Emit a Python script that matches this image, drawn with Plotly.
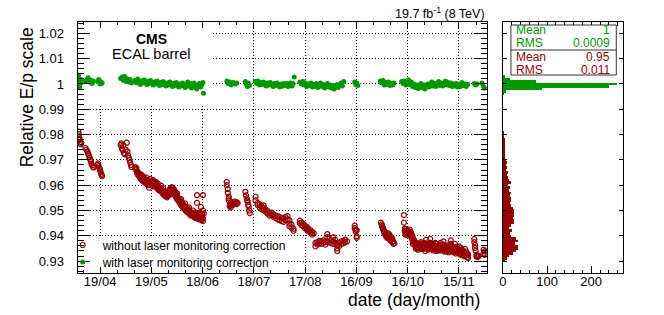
import numpy as np
import pandas as pd
import plotly.graph_objects as go

# ---------------- data (day of year 2012, relative E/p scale) ----------------
YEAR_START = pd.Timestamp("2012-01-01")

red_day = [
    97.3, 97.5, 97.6, 97.8, 98.0, 98.3, 98.6, 99.0,
    101.4, 102.0, 102.6, 103.0, 103.4, 103.8, 104.2, 104.6, 104.9, 105.3, 105.8, 106.2,
    108.5, 108.8, 109.2, 109.6, 110.0, 110.3, 110.6, 110.9, 111.2,
    122.0, 122.4, 122.8, 123.2, 123.6, 124.0, 124.4, 125.0, 125.6, 126.0, 126.4, 126.8, 127.2, 127.6, 128.0, 128.4,
    130.6, 130.6, 131.2, 131.2, 131.7, 131.7, 132.3, 132.3, 132.9, 132.9, 133.5, 133.5,
    134.1, 134.1, 134.1, 134.7, 134.7, 135.2, 135.2, 135.2, 135.8, 135.8, 136.4, 136.4,
    137.0, 137.0, 137.0, 137.5, 137.5, 138.1, 138.1, 138.7, 138.7, 138.7, 139.3, 139.3,
    139.9, 139.9, 140.4, 140.4, 141.0, 141.0, 141.0, 141.6, 141.6, 142.2, 142.2,
    142.8, 142.8, 142.8, 143.4, 143.4, 143.9, 143.9, 143.9, 144.5, 144.5, 145.1, 145.1,
    145.7, 145.7, 146.3, 146.3, 146.9, 146.9, 146.9, 147.4, 147.4, 148.0, 148.0,
    148.6, 148.6, 148.6, 149.2, 149.2, 149.8, 149.8, 150.4, 150.4, 150.9, 150.9,
    151.5, 151.5, 151.5, 152.1, 152.1, 152.7, 152.7, 153.3, 153.3, 153.9, 153.9, 154.4, 154.4,
    155.0, 155.0, 155.0, 155.6, 155.6, 156.2, 156.2, 156.8, 156.8, 157.4, 157.4, 157.4,
    157.9, 157.9, 158.5, 158.5, 159.1, 159.1, 159.7, 159.7, 159.7, 160.3, 160.3, 160.8, 160.8,
    161.4, 161.4, 162.0, 162.0, 162.0, 162.6, 162.6, 163.2, 163.2, 163.7, 163.7,
    164.3, 164.3, 164.3, 164.9, 164.9, 165.5, 165.5, 165.5, 166.1, 166.1,
    166.7, 166.7, 166.7, 166.7, 167.2, 167.2, 167.2, 167.8, 167.8, 168.4, 168.4, 168.4,
    169.0, 169.0, 169.0, 169.6, 169.6, 169.6, 170.2, 170.2, 170.2, 170.2, 170.7,
    184.1, 184.1, 184.7, 184.7, 185.3, 185.3, 185.3, 185.9, 185.9, 186.4, 186.4, 186.4,
    187.6, 187.6, 188.8, 188.8, 189.9, 189.9, 190.5,
    195.0, 195.4, 195.8, 196.1, 196.4, 196.7, 197.0, 197.3, 197.6,
    201.0, 201.0, 202.2, 202.2, 203.4, 203.4, 204.5, 204.5, 205.7, 205.7, 205.7, 206.9, 206.9,
    208.0, 208.0, 209.2, 209.2, 210.4, 210.4, 211.5, 211.5, 212.7, 212.7, 213.9, 213.9,
    215.0, 215.0, 216.2, 216.2, 217.4, 217.4, 218.5, 218.5, 219.7, 219.7,
    220.8, 220.8, 220.8, 222.0, 222.0, 223.2, 223.2,
    226.9, 226.9, 227.8, 227.8, 228.9, 228.9, 229.9, 229.9, 231.0, 231.0, 232.0, 232.0,
    233.1, 233.1, 234.1, 234.1, 235.0,
    236.0, 236.0, 237.1, 237.1, 238.3, 238.3, 239.5, 239.5, 240.6, 240.6, 241.8, 241.8,
    243.0, 243.0, 243.0, 244.1, 244.1, 245.3, 245.3, 246.5, 246.5, 246.5, 247.6, 247.6,
    248.8, 248.8, 248.8, 250.0, 250.0, 251.1, 251.1, 252.3, 252.3, 253.4, 253.4, 254.6,
    259.0, 259.0, 259.6, 259.6, 260.2, 260.2, 260.2,
    274.3, 274.9, 274.9, 275.6, 275.6, 276.2, 276.2, 276.8, 276.8, 277.4, 277.4, 278.0, 278.0,
    278.6, 278.6, 279.2, 279.2, 279.2, 279.8, 279.8, 280.4, 280.4, 281.0, 281.0, 281.6, 281.6, 282.2,
    287.8, 287.8, 288.3, 288.3, 288.8, 288.8, 288.8, 289.4, 289.4, 290.0, 290.0, 290.0,
    290.6, 290.6, 291.2, 291.2, 291.8, 291.8, 292.4, 292.4, 293.0, 293.0, 293.0,
    293.6, 293.6, 294.2, 294.2, 294.8, 294.8, 295.4, 295.4, 296.0, 296.0, 296.0,
    296.6, 296.6, 297.2, 297.2, 297.8, 297.8, 297.8, 298.4, 298.4, 299.0, 299.0, 299.6, 299.6,
    300.2, 300.2, 300.2, 300.8, 300.8, 301.4, 301.4, 302.0, 302.0, 302.0, 302.6, 302.6,
    303.2, 303.2, 303.2, 303.8, 303.8, 304.4, 304.4, 305.0, 305.0, 305.0, 305.6, 305.6,
    306.2, 306.2, 306.8, 306.8, 306.8, 307.4, 307.4, 308.0, 308.0, 308.6, 308.6,
    309.2, 309.2, 309.2, 309.8, 309.8, 310.4, 310.4, 311.0, 311.0, 311.6, 311.6, 311.6,
    312.2, 312.2, 312.8, 312.8, 313.4, 313.4, 314.0, 314.0, 314.0, 314.6, 314.6,
    315.2, 315.2, 315.2, 315.8, 315.8, 316.4, 316.4, 317.0, 317.0, 317.6, 317.6,
    318.2, 318.2, 318.2, 318.8, 318.8, 319.4, 319.4, 320.0, 320.0, 320.6, 320.6,
    321.2, 321.2, 321.2, 321.8, 321.8, 322.4, 322.4, 323.0, 323.0, 323.6, 323.6,
    324.2, 324.2, 324.8, 324.8, 325.4, 325.4,
    329.0, 329.0, 329.4, 329.4, 329.8, 330.3, 330.3, 330.9, 330.9, 331.5,
    334.4, 334.4, 335.0, 335.0, 335.6,
]
red_val = [
    0.9812, 0.9802, 0.9790, 0.9779, 0.9784, 0.9771, 0.9762, 0.9768,
    0.9747, 0.9740, 0.9733, 0.9725, 0.9718, 0.9710, 0.9702, 0.9695, 0.9685, 0.9679, 0.9673, 0.9670,
    0.9680, 0.9686, 0.9675, 0.9668, 0.9660, 0.9652, 0.9645, 0.9640, 0.9636,
    0.9758, 0.9765, 0.9745, 0.9738, 0.9758, 0.9727, 0.9722, 0.9740, 0.9768, 0.9733, 0.9718, 0.9708, 0.9700, 0.9690, 0.9680, 0.9672,
    0.9672, 0.9665, 0.9660, 0.9668, 0.9655, 0.9645, 0.9650, 0.9640, 0.9645, 0.9635, 0.9638, 0.9628,
    0.9632, 0.9622, 0.9642, 0.9630, 0.9620, 0.9625, 0.9615, 0.9635, 0.9628, 0.9618, 0.9620, 0.9608,
    0.9622, 0.9612, 0.9630, 0.9615, 0.9605, 0.9620, 0.9610, 0.9612, 0.9600, 0.9590, 0.9625, 0.9615,
    0.9618, 0.9605, 0.9612, 0.9600, 0.9620, 0.9608, 0.9596, 0.9615, 0.9602, 0.9610, 0.9598,
    0.9605, 0.9593, 0.9612, 0.9600, 0.9588, 0.9595, 0.9585, 0.9605, 0.9592, 0.9580, 0.9590, 0.9578,
    0.9598, 0.9585, 0.9582, 0.9572, 0.9578, 0.9565, 0.9588, 0.9575, 0.9562, 0.9570, 0.9558,
    0.9565, 0.9555, 0.9575, 0.9562, 0.9552, 0.9568, 0.9558, 0.9575, 0.9562, 0.9585, 0.9570,
    0.9590, 0.9578, 0.9565, 0.9592, 0.9580, 0.9588, 0.9575, 0.9582, 0.9568, 0.9575, 0.9560, 0.9565, 0.9552,
    0.9558, 0.9545, 0.9568, 0.9550, 0.9540, 0.9545, 0.9535, 0.9540, 0.9528, 0.9535, 0.9522, 0.9545,
    0.9530, 0.9518, 0.9525, 0.9512, 0.9520, 0.9508, 0.9515, 0.9505, 0.9528, 0.9510, 0.9498, 0.9505, 0.9495,
    0.9508, 0.9495, 0.9500, 0.9488, 0.9512, 0.9495, 0.9485, 0.9490, 0.9480, 0.9492, 0.9482,
    0.9488, 0.9478, 0.9500, 0.9485, 0.9475, 0.9482, 0.9472, 0.9492, 0.9480, 0.9470,
    0.9561, 0.9530, 0.9485, 0.9475, 0.9478, 0.9468, 0.9490, 0.9475, 0.9465, 0.9480, 0.9470, 0.9490,
    0.9514, 0.9478, 0.9465, 0.9475, 0.9462, 0.9485, 0.9561, 0.9500, 0.9470, 0.9458, 0.9488,
    0.9613, 0.9600, 0.9585, 0.9570, 0.9555, 0.9548, 0.9540, 0.9525, 0.9518, 0.9530, 0.9520, 0.9512,
    0.9532, 0.9522, 0.9535, 0.9528, 0.9532, 0.9525, 0.9530,
    0.9574, 0.9560, 0.9548, 0.9540, 0.9535, 0.9522, 0.9515, 0.9500, 0.9490,
    0.9555, 0.9540, 0.9530, 0.9522, 0.9525, 0.9512, 0.9518, 0.9505, 0.9510, 0.9500, 0.9520, 0.9505, 0.9495,
    0.9498, 0.9488, 0.9490, 0.9480, 0.9492, 0.9482, 0.9485, 0.9475, 0.9480, 0.9470, 0.9478, 0.9465,
    0.9475, 0.9462, 0.9470, 0.9458, 0.9468, 0.9455, 0.9475, 0.9462, 0.9478, 0.9465,
    0.9462, 0.9448, 0.9438, 0.9445, 0.9432, 0.9428, 0.9420,
    0.9460, 0.9450, 0.9452, 0.9442, 0.9448, 0.9438, 0.9440, 0.9430, 0.9435, 0.9425, 0.9428, 0.9418,
    0.9422, 0.9412, 0.9415, 0.9405, 0.9410,
    0.9372, 0.9358, 0.9365, 0.9375, 0.9380, 0.9370, 0.9378, 0.9368, 0.9382, 0.9372, 0.9375, 0.9365,
    0.9407, 0.9395, 0.9378, 0.9388, 0.9375, 0.9382, 0.9370, 0.9395, 0.9378, 0.9368, 0.9385, 0.9372,
    0.9350, 0.9340, 0.9362, 0.9372, 0.9360, 0.9378, 0.9368, 0.9380, 0.9370, 0.9375, 0.9385, 0.9378,
    0.9440, 0.9430, 0.9425, 0.9418, 0.9422, 0.9398, 0.9392,
    0.9452, 0.9445, 0.9438, 0.9432, 0.9425, 0.9420, 0.9412, 0.9415, 0.9405, 0.9408, 0.9398, 0.9402, 0.9392,
    0.9410, 0.9395, 0.9398, 0.9388, 0.9405, 0.9392, 0.9382, 0.9395, 0.9385, 0.9388, 0.9375, 0.9378, 0.9368, 0.9370,
    0.9482, 0.9452, 0.9428, 0.9418, 0.9425, 0.9412, 0.9405, 0.9420, 0.9410, 0.9422, 0.9412, 0.9402,
    0.9418, 0.9408, 0.9425, 0.9412, 0.9415, 0.9400, 0.9405, 0.9390, 0.9395, 0.9380, 0.9368,
    0.9385, 0.9372, 0.9378, 0.9362, 0.9350, 0.9372, 0.9365, 0.9352, 0.9368, 0.9355, 0.9345,
    0.9362, 0.9350, 0.9370, 0.9358, 0.9375, 0.9362, 0.9348, 0.9368, 0.9355, 0.9360, 0.9348, 0.9372, 0.9358,
    0.9365, 0.9352, 0.9340, 0.9385, 0.9370, 0.9362, 0.9350, 0.9358, 0.9345, 0.9368, 0.9365, 0.9352,
    0.9388, 0.9372, 0.9360, 0.9370, 0.9355, 0.9362, 0.9348, 0.9355, 0.9342, 0.9368, 0.9360, 0.9348,
    0.9372, 0.9358, 0.9368, 0.9352, 0.9340, 0.9360, 0.9348, 0.9355, 0.9342, 0.9365, 0.9350,
    0.9360, 0.9345, 0.9372, 0.9355, 0.9342, 0.9362, 0.9350, 0.9378, 0.9365, 0.9360, 0.9348, 0.9338,
    0.9355, 0.9342, 0.9350, 0.9338, 0.9362, 0.9348, 0.9358, 0.9345, 0.9335, 0.9350, 0.9338,
    0.9382, 0.9368, 0.9355, 0.9360, 0.9345, 0.9352, 0.9340, 0.9348, 0.9335, 0.9368, 0.9355,
    0.9355, 0.9342, 0.9330, 0.9350, 0.9338, 0.9345, 0.9332, 0.9358, 0.9345, 0.9340, 0.9328,
    0.9352, 0.9338, 0.9325, 0.9345, 0.9332, 0.9340, 0.9325, 0.9335, 0.9320, 0.9348, 0.9330,
    0.9338, 0.9322, 0.9330, 0.9315, 0.9325, 0.9312,
    0.9387, 0.9375, 0.9364, 0.9352, 0.9341, 0.9325, 0.9318, 0.9322, 0.9316, 0.9320,
    0.9345, 0.9330, 0.9338, 0.9325, 0.9340,
]

green_day = [
    97.3, 97.5, 97.6, 97.8, 98.0, 98.3, 98.5, 99.0,
    101.5, 102.2, 103.0, 103.8, 104.5, 105.3, 106.0,
    108.5, 109.2, 110.0, 110.6, 111.2,
    122.0, 122.8, 123.6, 124.4, 125.2, 126.0, 126.8, 127.6, 128.4,
    130.5, 131.3, 132.0, 132.8, 133.5, 134.3, 135.0, 135.8, 136.5, 137.3, 138.0, 138.8,
    139.5, 140.3, 141.0, 141.8, 142.5, 143.3, 144.0, 144.8, 145.5, 146.3, 147.0, 147.8,
    148.5, 149.3, 150.0, 150.8, 151.5, 152.3, 153.0, 153.8, 154.5, 155.3, 156.0, 156.8,
    157.5, 158.3, 159.0, 159.8, 160.5, 161.3, 162.0, 162.8, 163.5, 164.3, 165.0, 165.8,
    166.5, 167.3, 168.0, 168.8, 169.5, 170.2, 170.5,
    184.2, 185.0, 185.8, 186.6, 188.0, 189.0, 190.0,
    195.0, 195.6, 196.2, 196.8, 197.4,
    200.8, 201.6, 202.4, 203.2, 204.0, 204.8, 205.6, 206.4, 207.2, 208.0, 208.8,
    209.6, 210.4, 211.2, 212.0, 212.8, 213.6, 214.4, 215.2, 216.0, 216.8, 217.6,
    218.5, 219.3, 220.0, 220.8, 221.5, 222.3, 223.0, 223.6,
    227.0, 227.8, 228.6, 229.4, 230.2, 231.0, 231.8, 232.6, 233.4, 234.2, 235.0,
    235.8, 236.6, 237.4, 238.2, 239.0, 239.8, 240.6, 241.4, 242.2, 243.0, 243.8,
    244.6, 245.4, 246.2, 247.0, 247.8, 248.6, 249.4, 250.2, 251.0, 251.8, 252.6,
    259.0, 259.6, 260.2, 260.8,
    274.0, 274.8, 275.6, 276.4, 277.2, 278.0, 278.8, 279.6, 280.4, 281.2, 282.0,
    286.5, 287.3, 288.1, 288.9, 289.7, 290.5, 291.3, 292.1, 292.9, 293.7, 294.5,
    295.3, 296.1, 296.9, 297.7, 298.5, 299.3, 300.1, 300.9, 301.7, 302.5, 303.3,
    304.1, 304.9, 305.7, 306.5, 307.3, 308.1, 308.9, 309.7, 310.5, 311.3, 312.1,
    312.9, 313.7, 314.5, 315.3, 316.1, 316.9, 317.7, 318.5, 319.3, 320.1, 320.9,
    321.7, 322.5, 323.5, 324.3, 325.1,
    329.0, 329.8, 330.6,
    333.5, 334.3, 335.0,
]
green_val = [
    1.0035, 1.0022, 1.0008, 0.9995, 0.9988, 1.0012, 1.0002, 1.0016,
    1.0010, 1.0018, 1.0025, 1.0008, 1.0015, 1.0002, 1.0012,
    1.0010, 1.0018, 1.0000, 1.0008, 1.0004,
    1.0022, 1.0028, 1.0015, 1.0030, 1.0010, 1.0020, 1.0008, 1.0018, 1.0005,
    1.0015, 1.0005, 1.0020, 1.0010, 0.9998, 1.0012, 1.0004, 1.0016, 1.0008, 0.9998, 1.0010, 1.0002,
    1.0014, 1.0006, 0.9996, 1.0008, 1.0000, 1.0012, 1.0004, 0.9994, 1.0006, 0.9998, 1.0010, 1.0002,
    0.9992, 1.0004, 0.9996, 1.0008, 1.0000, 0.9990, 1.0002, 0.9994, 1.0006, 0.9998, 0.9988, 1.0000,
    0.9992, 1.0004, 0.9996, 0.9986, 0.9998, 1.0008, 0.9992, 1.0002, 0.9984, 0.9996, 1.0004, 0.9990,
    0.9980, 0.9994, 1.0002, 0.9988, 0.9998, 1.0006, 0.9963,
    1.0012, 1.0002, 1.0008, 0.9996, 1.0006, 1.0000, 1.0004,
    1.0010, 1.0000, 0.9990, 1.0004, 0.9994,
    1.0010, 1.0002, 1.0012, 0.9996, 1.0006, 0.9998, 1.0008, 1.0000, 0.9992, 1.0004, 0.9996,
    1.0006, 0.9998, 0.9990, 1.0002, 0.9994, 1.0004, 0.9996, 0.9988, 1.0000, 0.9992, 1.0002,
    0.9994, 1.0002, 0.9990, 0.9998, 1.0004, 0.9992, 1.0002, 1.0028,
    1.0008, 1.0000, 1.0010, 0.9996, 1.0004, 0.9990, 1.0000, 0.9994, 1.0004, 0.9988, 0.9998,
    0.9992, 1.0002, 0.9986, 0.9996, 1.0004, 0.9990, 0.9998, 0.9984, 0.9994, 1.0002, 0.9988,
    0.9996, 0.9984, 0.9994, 0.9980, 0.9990, 0.9998, 0.9986, 0.9994, 1.0004, 0.9992, 1.0010,
    1.0008, 0.9998, 1.0004, 0.9994,
    1.0012, 1.0004, 1.0014, 0.9996, 1.0006, 0.9998, 1.0008, 0.9994, 1.0002, 0.9996, 1.0004,
    1.0010, 1.0002, 1.0012, 0.9996, 1.0006, 1.0016, 0.9998, 1.0008, 0.9990, 1.0000, 0.9986,
    0.9996, 0.9982, 0.9992, 1.0002, 0.9986, 0.9996, 0.9980, 0.9990, 1.0000, 0.9988, 0.9998,
    1.0008, 0.9992, 1.0002, 0.9990, 1.0000, 1.0010, 0.9994, 1.0004, 0.9992, 1.0002, 1.0012,
    0.9996, 1.0006, 0.9994, 1.0004, 0.9990, 1.0000, 0.9992, 1.0002, 0.9988, 0.9998, 0.9990,
    1.0006, 0.9994, 1.0000, 0.9990, 0.9998,
    1.0002, 0.9996, 1.0000,
    1.0004, 0.9992, 0.9984,
]

# histogram bins (bin centre, entries)
red_hist_center = [
    0.930, 0.931, 0.932, 0.933, 0.934, 0.935, 0.936, 0.937, 0.938, 0.939,
    0.940, 0.941, 0.942, 0.943, 0.944, 0.945, 0.946, 0.947, 0.948, 0.949,
    0.950, 0.951, 0.952, 0.953, 0.954, 0.955, 0.956, 0.957, 0.958, 0.959,
    0.960, 0.961, 0.962, 0.963, 0.964, 0.965, 0.966, 0.967, 0.968, 0.969,
    0.970, 0.971, 0.972, 0.973, 0.974, 0.975, 0.976, 0.977, 0.978, 0.979,
    0.980, 0.981,
]
red_hist_count = [
    4, 10, 14, 22, 29, 35, 33, 28, 34, 30,
    17, 16, 20, 14, 18, 25, 26, 22, 25, 26,
    24, 22, 19, 16, 18, 17, 15, 19, 14, 15,
    12, 17, 13, 12, 9, 11, 7, 8, 6, 10,
    6, 5, 3, 4, 3, 3, 4, 3, 3, 2,
    2, 1,
]
green_hist_center = [0.996, 0.997, 0.998, 0.999, 1.000, 1.001, 1.002, 1.003]
green_hist_count = [2, 7, 88, 240, 259, 74, 16, 3]

x_tick_days = [110, 140, 170, 200, 230, 260, 290, 320]
x_tick_labels = ["19/04", "19/05", "18/06", "18/07", "17/08", "16/09", "16/10", "15/11"]
y_tick_vals = [0.93, 0.94, 0.95, 0.96, 0.97, 0.98, 0.99, 1.00, 1.01, 1.02]
y_tick_labels = ["0.93", "0.94", "0.95", "0.96", "0.97", "0.98", "0.99", "1", "1.01", "1.02"]
hist_tick_vals = [0, 100, 200]

stats_green = [("Mean", "1"), ("RMS", "0.0009")]
stats_red = [("Mean", "0.95"), ("RMS", "0.011")]

# ---------------- styling / layout ----------------
RED = "#990000"
GREEN = "#009900"
FONT = "Liberation Sans"
W, H = 664, 315


def to_date(days):
    return YEAR_START + pd.to_timedelta(np.asarray(days, dtype=float) - 1.0, unit="D")


def px(x):
    return x / W


def py(y):
    return 1 - y / H


X_RANGE = to_date([96.8, 336.3])
Y_RANGE = [0.9253, 1.0245]
minor_x = pd.date_range("2012-03-30", "2012-12-10", freq="10D")

fig = go.Figure()
fig.add_trace(go.Scatter(
    x=to_date(red_day), y=red_val, mode="markers",
    name="without laser monitoring correction",
    marker=dict(symbol="circle-open", size=5, color=RED, line=dict(width=1.2, color=RED)),
    xaxis="x", yaxis="y", legend="legend"))
fig.add_trace(go.Scatter(
    x=to_date(green_day), y=green_val, mode="markers",
    name="with laser monitoring correction",
    marker=dict(symbol="circle", size=5, color=GREEN),
    xaxis="x", yaxis="y", legend="legend2"))
fig.add_trace(go.Bar(
    y=red_hist_center, x=red_hist_count, orientation="h", width=0.001,
    marker=dict(color=RED, line=dict(width=0)), showlegend=False,
    xaxis="x2", yaxis="y2"))
fig.add_trace(go.Bar(
    y=green_hist_center, x=green_hist_count, orientation="h", width=0.001,
    marker=dict(color=GREEN, line=dict(width=0)), showlegend=False,
    xaxis="x2", yaxis="y2"))

tickfont = dict(family=FONT, size=13, color="black")
dom_x = [px(74), px(485.7)]
dom_x2 = [px(502), px(622.7)]
dom_y = [py(273), py(22)]

legend_common = dict(
    x=px(59), xanchor="left", yanchor="middle",
    bgcolor="rgba(0,0,0,0)", borderwidth=0,
    font=dict(family=FONT, size=12, color="black"),
)

fig.update_layout(
    width=W, height=H,
    margin=dict(l=0, r=0, t=0, b=0),
    paper_bgcolor="white", plot_bgcolor="white",
    font=dict(family=FONT, size=12, color="black"),
    bargap=0,
    xaxis=dict(
        domain=dom_x, range=list(X_RANGE), type="date", anchor="y",
        tickmode="array", tickvals=list(to_date(x_tick_days)), ticktext=x_tick_labels,
        ticks="inside", ticklen=6, tickcolor="black", tickfont=tickfont,
        ticklabelstandoff=-4,
        minor=dict(tickmode="array", tickvals=list(minor_x), ticks="inside", ticklen=3,
                   tickcolor="black", showgrid=False),
        showline=True, linecolor="black", linewidth=1, mirror="allticks",
        showgrid=True, gridcolor="black", gridwidth=1, griddash="1px,2px",
        zeroline=False,
    ),
    yaxis=dict(
        domain=dom_y, range=Y_RANGE, anchor="x",
        tickmode="array", tickvals=y_tick_vals, ticktext=y_tick_labels,
        ticks="inside", ticklen=12, tickcolor="black", tickfont=tickfont,
        ticklabelstandoff=10,
        minor=dict(tickmode="linear", tick0=0.93, dtick=0.002, ticks="inside", ticklen=6,
                   tickcolor="black", showgrid=False),
        showline=True, linecolor="black", linewidth=1, mirror="allticks",
        showgrid=True, gridcolor="black", gridwidth=1, griddash="1px,2px",
        zeroline=False,
    ),
    xaxis2=dict(
        domain=dom_x2, range=[0, 272], anchor="y2",
        tickmode="array", tickvals=hist_tick_vals,
        ticks="inside", ticklen=7, tickcolor="black", tickfont=tickfont,
        ticklabelstandoff=-4,
        minor=dict(tickmode="linear", tick0=0, dtick=20, ticks="inside", ticklen=3.5,
                   tickcolor="black", showgrid=False),
        showline=True, linecolor="black", linewidth=1, mirror="allticks",
        showgrid=False, zeroline=False,
    ),
    yaxis2=dict(
        domain=dom_y, range=Y_RANGE, anchor="x2", matches="y",
        tickmode="linear", tick0=0.93, dtick=0.01,
        ticks="inside", ticklen=4, tickcolor="black", showticklabels=False,
        showline=True, linecolor="black", linewidth=1, mirror="allticks",
        showgrid=False, zeroline=False,
    ),
    legend=dict(y=py(245), **legend_common),
    legend2=dict(y=py(262), **legend_common),
)

# white boxes hiding the grid behind the labels
fig.add_shape(type="rect", xref="x", yref="y",
              x0=X_RANGE[0], x1=to_date([175.5])[0], y0=0.99139, y1=1.0245,
              fillcolor="white", line=dict(width=0), layer="between")
fig.add_shape(type="rect", xref="x", yref="y",
              x0=X_RANGE[0], x1=to_date([211.3])[0], y0=0.9253, y1=0.9395,
              fillcolor="white", line=dict(width=0), layer="between")

# statistics box
fig.add_shape(type="rect", xref="paper", yref="paper",
              x0=px(510), x1=px(616), y0=py(75), y1=py(25),
              fillcolor="white", line=dict(color="#333333", width=1), layer="above")
fig.add_shape(type="line", xref="paper", yref="paper",
              x0=px(510), x1=px(616), y0=py(50), y1=py(50),
              line=dict(color="#333333", width=1), layer="above")

row_y = [30.5, 43.5, 56.5, 69.5]
rows = [(stats_green, GREEN), (stats_red, RED)]
k = 0
for stats, col in rows:
    for name, val in stats:
        fig.add_annotation(x=px(514), y=py(row_y[k]), xref="paper", yref="paper",
                           text=name, showarrow=False, xanchor="left", yanchor="middle",
                           borderpad=0, font=dict(family=FONT, size=12, color=col))
        fig.add_annotation(x=px(611), y=py(row_y[k]), xref="paper", yref="paper",
                           text=val, showarrow=False, xanchor="right", yanchor="middle",
                           borderpad=0, font=dict(family=FONT, size=12, color=col))
        k += 1

# texts
fig.add_annotation(x=px(148.5), y=py(38.5), xref="paper", yref="paper", text="<b>CMS</b>",
                   showarrow=False, xanchor="center", yanchor="middle",
                   font=dict(family=FONT, size=14, color="black"))
fig.add_annotation(x=px(148), y=py(53.5), xref="paper", yref="paper", text="ECAL barrel",
                   showarrow=False, xanchor="center", yanchor="middle",
                   font=dict(family=FONT, size=14.5, color="black"))
fig.add_annotation(x=px(486), y=py(13.5), xref="paper", yref="paper",
                   text="19.7 fb<sup>-1</sup> (8 TeV)",
                   showarrow=False, xanchor="right", yanchor="middle",
                   font=dict(family=FONT, size=12.5, color="black"))
fig.add_annotation(x=px(481), y=py(300), xref="paper", yref="paper", text="date (day/month)",
                   showarrow=False, xanchor="right", yanchor="middle",
                   font=dict(family=FONT, size=17.5, color="black"))
fig.add_annotation(x=px(23.5), y=py(97), xref="paper", yref="paper", text="Relative E/p scale",
                   showarrow=False, xanchor="center", yanchor="middle", textangle=-90,
                   font=dict(family=FONT, size=17.5, color="black"))

fig.write_html("out.html", config={"displayModeBar": False},
               post_script="document.body.style.margin='0px';")
